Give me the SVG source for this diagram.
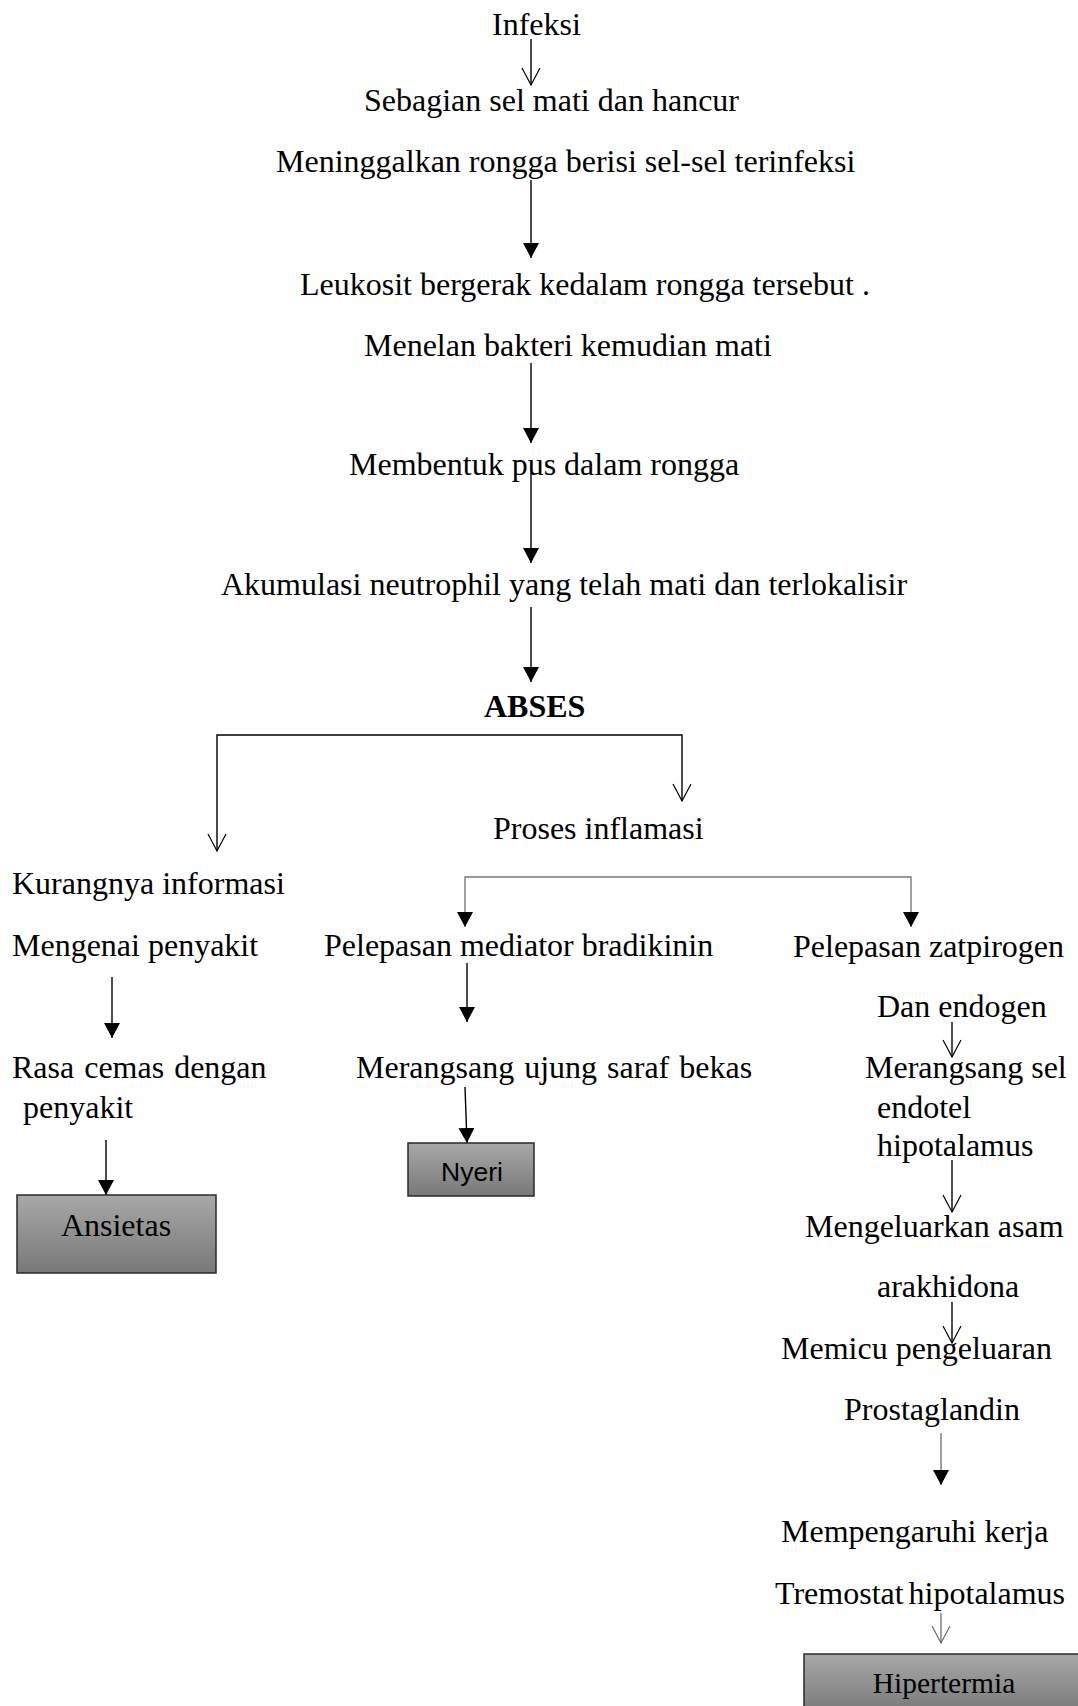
<svg xmlns="http://www.w3.org/2000/svg" width="1078" height="1706" viewBox="0 0 1078 1706">
<style>
  text { font-family: "Liberation Serif", "Times New Roman", serif; font-size: 32px; fill: #000; }
  .bold { font-weight: bold; }
  .sans { font-family: "Liberation Sans", Arial, sans-serif; font-size: 26.5px; }
  .c { text-anchor: middle; }
  .ln { fill: none; stroke: #000; stroke-width: 1.4; }
  .gray { stroke: #7a7a7a; }
  .f { marker-end: url(#filled); }
  .o { marker-end: url(#open); }
  .og { marker-end: url(#openGray); }
  .box { fill: url(#boxGrad); stroke: #2a2a2a; stroke-width: 1.5; }
</style>
<defs>
  <linearGradient id="boxGrad" x1="0" y1="0" x2="0" y2="1">
    <stop offset="0" stop-color="#a8a8a8"/>
    <stop offset="1" stop-color="#787878"/>
  </linearGradient>
  <marker id="filled" markerUnits="userSpaceOnUse" viewBox="0 0 15 16" markerWidth="15" markerHeight="16" refX="15" refY="8" orient="auto">
    <path d="M0,0 L15,8 L0,16 Z" fill="#000"/>
  </marker>
  <marker id="open" markerUnits="userSpaceOnUse" viewBox="-2 -2 21 22" markerWidth="21" markerHeight="22" refX="17" refY="9" orient="auto" overflow="visible">
    <path d="M0,0 L17,9 L0,18" fill="none" stroke="#000" stroke-width="1.2"/>
  </marker>
  <marker id="openGray" markerUnits="userSpaceOnUse" viewBox="-2 -2 21 22" markerWidth="21" markerHeight="22" refX="17" refY="9" orient="auto" overflow="visible">
    <path d="M0,0 L17,9 L0,18" fill="none" stroke="#6a6a6a" stroke-width="1.2"/>
  </marker>
</defs>
<rect width="1078" height="1706" fill="#fff"/>

<g id="connectors">
  <path class="ln o" d="M531,39 V85"/>
  <path class="ln f" d="M531,180 V258"/>
  <path class="ln f" d="M531,363 V443"/>
  <path class="ln f" d="M531,473 V563"/>
  <path class="ln f" d="M531,607 V682"/>
  <path class="ln o" d="M450,735 H217 V851"/>
  <path class="ln o" d="M450,735 H682 V801"/>
  <path class="ln gray f" d="M690,877 H465 V927"/>
  <path class="ln gray f" d="M690,877 H911 V927"/>
  <path class="ln f" d="M112,977 V1038"/>
  <path class="ln f" d="M467,963 V1022"/>
  <path class="ln f" d="M465,1087 L467,1143"/>
  <path class="ln f" d="M106,1140 V1195"/>
  <path class="ln o" d="M952,1022 V1057"/>
  <path class="ln o" d="M952,1160 V1212"/>
  <path class="ln o" d="M952,1302 V1343"/>
  <path class="ln gray f" d="M941,1433 V1485"/>
  <path class="ln gray og" d="M941,1613 V1643"/>
</g>

<g id="n-infeksi"><text x="492" y="35">Infeksi</text></g>
<g id="n-sebagian"><text x="364" y="111">Sebagian sel mati dan hancur</text></g>
<g id="n-meninggalkan"><text x="276" y="172">Meninggalkan rongga berisi sel-sel terinfeksi</text></g>
<g id="n-leukosit"><text x="300" y="295">Leukosit bergerak kedalam rongga tersebut .</text></g>
<g id="n-menelan"><text x="364" y="356">Menelan bakteri kemudian mati</text></g>
<g id="n-membentuk"><text x="349" y="475">Membentuk pus dalam rongga</text></g>
<g id="n-akumulasi"><text x="221" y="595">Akumulasi neutrophil yang telah mati dan terlokalisir</text></g>
<g id="n-abses"><text class="bold" x="484" y="717">ABSES</text></g>
<g id="n-proses"><text x="493" y="839">Proses inflamasi</text></g>
<g id="n-kurangnya">
  <text x="12" y="894">Kurangnya informasi</text>
  <text x="12" y="956">Mengenai penyakit</text>
</g>
<g id="n-bradikinin"><text x="324" y="956">Pelepasan mediator bradikinin</text></g>
<g id="n-pirogen">
  <text x="793" y="957">Pelepasan zatpirogen</text>
  <text x="877" y="1017">Dan endogen</text>
</g>
<g id="n-rasa">
  <text x="12" y="1078" word-spacing="2">Rasa cemas dengan</text>
  <text x="23" y="1118">penyakit</text>
</g>
<g id="n-ujung"><text x="356" y="1078" word-spacing="2">Merangsang ujung saraf bekas</text></g>
<g id="n-endotel">
  <text x="865" y="1078">Merangsang sel</text>
  <text x="877" y="1118">endotel</text>
  <text x="877" y="1156">hipotalamus</text>
</g>
<g id="n-asam">
  <text x="805" y="1237">Mengeluarkan asam</text>
  <text x="877" y="1297">arakhidona</text>
</g>
<g id="n-prostaglandin">
  <text x="781" y="1359">Memicu pengeluaran</text>
  <text x="844" y="1420">Prostaglandin</text>
</g>
<g id="n-tremostat">
  <text x="781" y="1542">Mempengaruhi kerja</text>
  <text x="775" y="1604" word-spacing="-3">Tremostat hipotalamus</text>
</g>
<g id="n-ansietas">
  <rect class="box" x="17" y="1195" width="199" height="78"/>
  <text class="c" x="116" y="1236">Ansietas</text>
</g>
<g id="n-nyeri">
  <rect class="box" x="408" y="1143" width="126" height="53"/>
  <text class="sans c" x="472" y="1181">Nyeri</text>
</g>
<g id="n-hipertermia">
  <rect class="box" x="804" y="1654" width="280" height="60"/>
  <text class="c" x="944" y="1693" style="font-size:29.5px">Hipertermia</text>
</g>
</svg>
